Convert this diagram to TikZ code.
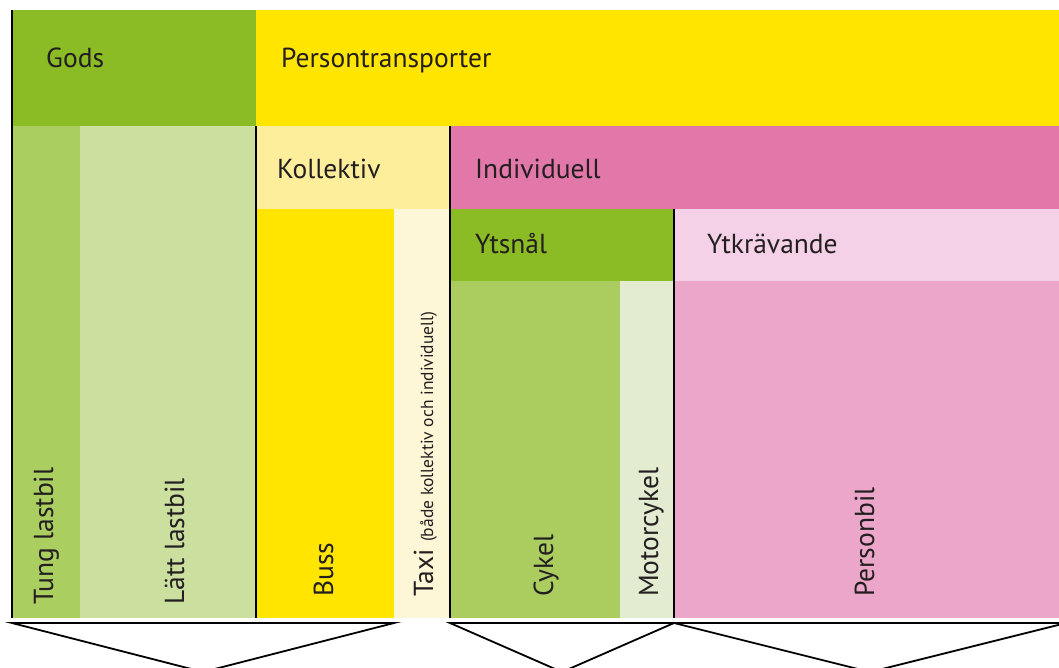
\documentclass[tikz,border=0pt]{standalone}
\usepackage{fontspec}
\setmainfont{PT Sans}
\definecolor{cGods}{HTML}{8BBB25}
\definecolor{cYel}{HTML}{FFE500}
\definecolor{cTung}{HTML}{AACE5F}
\definecolor{cLatt}{HTML}{CBDF9F}
\definecolor{cKoll}{HTML}{FDEE9B}
\definecolor{cInd}{HTML}{E277AA}
\definecolor{cTaxi}{HTML}{FEF7D7}
\definecolor{cYtk}{HTML}{F4D1E7}
\definecolor{cCyk}{HTML}{ABCD5F}
\definecolor{cMc}{HTML}{E3ECD0}
\definecolor{cPb}{HTML}{ECA6CA}
\definecolor{cTxt}{HTML}{231F20}
\tikzset{
  lbl/.style={anchor=base west, inner sep=0pt, text=cTxt, font=\fontsize{27.5}{32}\selectfont},
  vlbl/.style={lbl, rotate=90},
  sep/.style={line width=1.8pt, black},
  brk/.style={line width=1.8pt, black, line join=miter},
}
\begin{document}
\begin{tikzpicture}[x=1pt,y=-1pt]
\useasboundingbox (0,0) rectangle (1059,668);
\clip (0,0) rectangle (1059,668);
\fill[white] (0,0) rectangle (1059,668);
% top band
\fill[cGods] (12,10) rectangle (256,126);
\fill[cYel] (256,10) rectangle (1070,126);
% gods columns
\fill[cTung] (12,126) rectangle (80,618);
\fill[cLatt] (80,126) rectangle (256,618);
% kollektiv / individuell
\fill[cKoll] (256,126) rectangle (450,209);
\fill[cInd] (450,126) rectangle (1070,209);
\fill[cYel] (256,209) rectangle (394,618);
\fill[cTaxi] (394,209) rectangle (450,618);
% ytsnal / ytkravande
\fill[cGods] (450,209) rectangle (674,281);
\fill[cYtk] (674,209) rectangle (1070,281);
\fill[cCyk] (450,281) rectangle (620,618);
\fill[cMc] (620,281) rectangle (674,618);
\fill[cPb] (674,281) rectangle (1070,618);
% separators
\coordinate (s0t) at (12,10);   \coordinate (s0b) at (12,618);
\coordinate (s1t) at (256,126); \coordinate (s1b) at (256,618);
\coordinate (s2t) at (450,126); \coordinate (s2b) at (450,618);
\coordinate (s3t) at (674,209); \coordinate (s3b) at (674,618);
\draw[sep] (s0t) -- (s0b);
\draw[sep] (s1t) -- (s1b);
\draw[sep] (s2t) -- (s2b);
\draw[sep] (s3t) -- (s3b);
% labels
\node[lbl] (gods) at (46,68) {Gods};
\node[lbl] (pers) at (281,68) {Persontransporter};
\node[lbl] (koll) at (277,179) {Kollektiv};
\node[lbl] (ind) at (475,179) {Individuell};
\node[lbl] (yts) at (475,253) {Ytsnål};
\node[lbl] (ytk) at (707,253) {Ytkrävande};
\node[vlbl] (tung) at (53,605) {Tung lastbil};
\node[vlbl] (latt) at (184,605) {Lätt lastbil};
\node[vlbl] (buss) at (333,597) {Buss};
\node[vlbl] (taxi) at (433,597) {Taxi {\fontsize{17.5}{20}\selectfont (både kollektiv och individuell)}};
\node[vlbl] (cyk) at (553,597) {Cykel};
\node[vlbl] (mc) at (658,597) {Motorcykel};
\node[vlbl] (pb) at (874,597) {Personbil};
% brackets
\coordinate (b1l) at (12,623);  \coordinate (b1r) at (394,623);  \coordinate (b1a) at (203,672);
\coordinate (b2l) at (450,623); \coordinate (b2r) at (674,623);  \coordinate (b2a) at (562,672);
\coordinate (b3l) at (674,623); \coordinate (b3r) at (1066,623); \coordinate (b3a) at (870,672);
\draw[brk] (b1l) -- (b1r) -- (b1a) -- cycle;
\draw[brk] (b2l) -- (b2r) -- (b2a) -- cycle;
\draw[brk] (b3l) -- (b3r) -- (b3a) -- cycle;
\end{tikzpicture}
\end{document}
